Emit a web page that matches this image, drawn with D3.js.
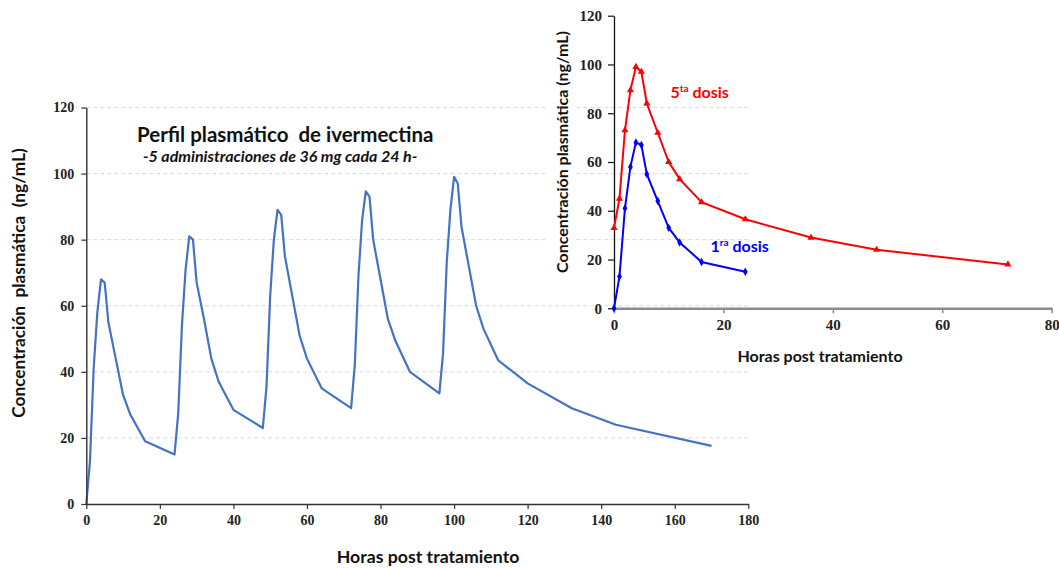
<!DOCTYPE html>
<html>
<head>
<meta charset="utf-8">
<script src="https://cdn.jsdelivr.net/npm/d3@7"></script>
<style>
  body { margin: 0; background: #fff; }
  .tick text { font-family: "Liberation Serif", "Times New Roman", serif; font-weight: bold; fill: #222; }
  .lbl { font-family: Lato, "Open Sans", sans-serif; font-weight: bold; white-space: pre; }
</style>
</head>
<body>
<svg id="chart"></svg>
<script>
// main chart: 5 doses, blue line
const mainHours = [0,1,2,3,4,5,6,8,10,12,16,24,
  25,26,27,28,29,30,32,34,36,40,48,
  49,50,51,52,53,54,56,58,60,64,72,
  73,74,75,76,77,78,80,82,84,88,96,
  97,98,99,100,101,102,104,106,108,112,120,132,144,170];
const mainConc = [0,13,41,58,68,67,55,44,33,27,19,15,
  27.5,54,71,81,80,67,56,44,37,28.5,23,
  35.5,63,80,89,87.5,75,63,51,44,35,29,
  42,69,86,94.6,93,80,68,56,49.5,40,33.5,
  45.5,73,89,99,97,84,72,60,53,43.5,36.5,29,24,17.6];
const mainXTicks = [0,20,40,60,80,100,120,140,160,180];
const mainYTicks = [0,20,40,60,80,100,120];

// inset: 1st and 5th dose
const dose1Hours = [0,1,2,3,4,5,6,8,10,12,16,24];
const dose1Conc = [0,13,41,58,68,67,55,44,33,27,19,15];
const dose5Hours = [0,1,2,3,4,5,6,8,10,12,16,24,36,48,72];
const dose5Conc = [33,45,73,89.5,99,97,84,72,60,53,43.5,36.5,29,24,18];
const insetXTicks = [0,20,40,60,80];
const insetYTicks = [0,20,40,60,80,100,120];

const width = 1059, height = 568;
const svg = d3.select('#chart').attr('width', width).attr('height', height);
svg.append('rect').attr('width', width).attr('height', height).attr('fill', '#fff');

// ---- main chart
const x = d3.scaleLinear().domain([0, 180]).range([86.3, 748.3]);
const y = d3.scaleLinear().domain([0, 120]).range([504, 107.5]);

svg.append('g').selectAll('line')
    .data(mainYTicks.filter(d => d > 0))
  .join('line')
    .attr('x1', x(0)).attr('x2', x(180))
    .attr('y1', d => y(d)).attr('y2', d => y(d))
    .attr('stroke', '#d9d9d9').attr('stroke-width', 1)
    .attr('stroke-dasharray', '4,3');

const mainPts = mainHours.map((h, i) => ({h: h, c: mainConc[i]}));
svg.append('path')
    .datum(mainPts)
    .attr('fill', 'none')
    .attr('stroke', '#4472C4')
    .attr('stroke-width', 2.2)
    .attr('stroke-linejoin', 'round')
    .attr('d', d3.line().x(d => x(d.h)).y(d => y(d.c)));

const xAxisG = svg.append('g')
    .attr('transform', `translate(0,${y(0)})`)
    .call(d3.axisBottom(x).tickValues(mainXTicks).tickSize(5).tickSizeOuter(0).tickPadding(6));
const yAxisG = svg.append('g')
    .attr('transform', `translate(${x(0)},0)`)
    .call(d3.axisLeft(y).tickValues(mainYTicks).tickSize(5).tickSizeOuter(0).tickPadding(7));
[xAxisG, yAxisG].forEach(g => {
  g.select('.domain').attr('stroke', '#333').attr('stroke-width', 1.4);
  g.selectAll('.tick line').attr('stroke', '#333').attr('stroke-width', 1.2);
  g.selectAll('.tick text').style('font-size', '14px');
});

svg.append('text').attr('class', 'lbl')
    .attr('x', 137).attr('y', 141.5)
    .style('font-size', '20.5px').attr('fill', '#111')
    .text('Perfil plasmático  de ivermectina');
svg.append('text').attr('class', 'lbl')
    .attr('x', 143).attr('y', 162)
    .style('font-size', '16px').style('font-style', 'italic').attr('fill', '#111')
    .text('-5 administraciones de 36 mg cada 24 h-');

svg.append('text').attr('class', 'lbl')
    .attr('transform', 'translate(25,283) rotate(-90)')
    .attr('text-anchor', 'middle')
    .style('font-size', '17.3px').attr('fill', '#111')
    .text('Concentración  plasmática  (ng/mL)');
svg.append('text').attr('class', 'lbl')
    .attr('x', 428).attr('y', 563)
    .attr('text-anchor', 'middle')
    .style('font-size', '17.7px').attr('fill', '#111')
    .text('Horas post tratamiento');

// ---- inset
const ix = d3.scaleLinear().domain([0, 80]).range([614, 1051.7]);
const iy = d3.scaleLinear().domain([0, 120]).range([308.3, 15.7]);

// white box behind inset y title
svg.append('rect')
    .attr('x', 547).attr('y', 20).attr('width', 29).attr('height', 268)
    .attr('fill', '#fff');

const ixAxisG = svg.append('g')
    .attr('transform', `translate(0,${iy(0)})`)
    .call(d3.axisBottom(ix).tickValues(insetXTicks).tickSize(5).tickSizeOuter(0).tickPadding(6));
ixAxisG.select('.domain').attr('stroke', '#8c8c8c').attr('stroke-width', 2.4);
ixAxisG.selectAll('.tick line').attr('stroke', '#8c8c8c').attr('stroke-width', 1.5);
ixAxisG.selectAll('.tick text').style('font-size', '15px');

const iyAxisG = svg.append('g')
    .attr('transform', `translate(${ix(0)},0)`)
    .call(d3.axisLeft(iy).tickValues(insetYTicks).tickSize(6).tickSizeOuter(0).tickPadding(6));
iyAxisG.select('.domain').attr('stroke', '#111').attr('stroke-width', 1.3);
iyAxisG.selectAll('.tick line').attr('stroke', '#111').attr('stroke-width', 1.2);
iyAxisG.selectAll('.tick text').style('font-size', '15px');

const series = [
  {hours: dose5Hours, conc: dose5Conc, color: '#FF0000', sym: d3.symbolTriangle, size: 22},
  {hours: dose1Hours, conc: dose1Conc, color: '#0000FF', sym: d3.symbolDiamond, size: 20}
];
series.forEach(s => {
  const pts = s.hours.map((h, i) => ({h: h, c: s.conc[i]}));
  svg.append('path')
      .datum(pts)
      .attr('fill', 'none')
      .attr('stroke', s.color)
      .attr('stroke-width', 2)
      .attr('d', d3.line().x(d => ix(d.h)).y(d => iy(d.c)));
  svg.append('g').selectAll('path')
      .data(pts)
    .join('path')
      .attr('transform', d => `translate(${ix(d.h)},${iy(d.c)})`)
      .attr('d', d3.symbol().type(s.sym).size(s.size))
      .attr('fill', s.color);
});

svg.append('text').attr('class', 'lbl')
    .attr('transform', 'translate(568,152) rotate(-90)')
    .attr('text-anchor', 'middle')
    .style('font-size', '16px').attr('fill', '#111')
    .text('Concentración plasmática (ng/mL)');
svg.append('text').attr('class', 'lbl')
    .attr('x', 820).attr('y', 361.5)
    .attr('text-anchor', 'middle')
    .style('font-size', '16px').attr('fill', '#111')
    .text('Horas post tratamiento');

// dose labels with superscripts
function doseLabel(px, py, num, sup, color) {
  const t = svg.append('text').attr('class', 'lbl')
      .attr('x', px).attr('y', py)
      .style('font-size', '16px').attr('fill', color);
  t.append('tspan').text(num);
  t.append('tspan').attr('dy', -6).style('font-size', '10px').text(sup);
  t.append('tspan').attr('dy', 6).text(' dosis');
}
doseLabel(670.5, 97.5, '5', 'ta', '#FF0000');
doseLabel(710.5, 251.5, '1', 'ra', '#0000FF');
</script>
</body>
</html>
